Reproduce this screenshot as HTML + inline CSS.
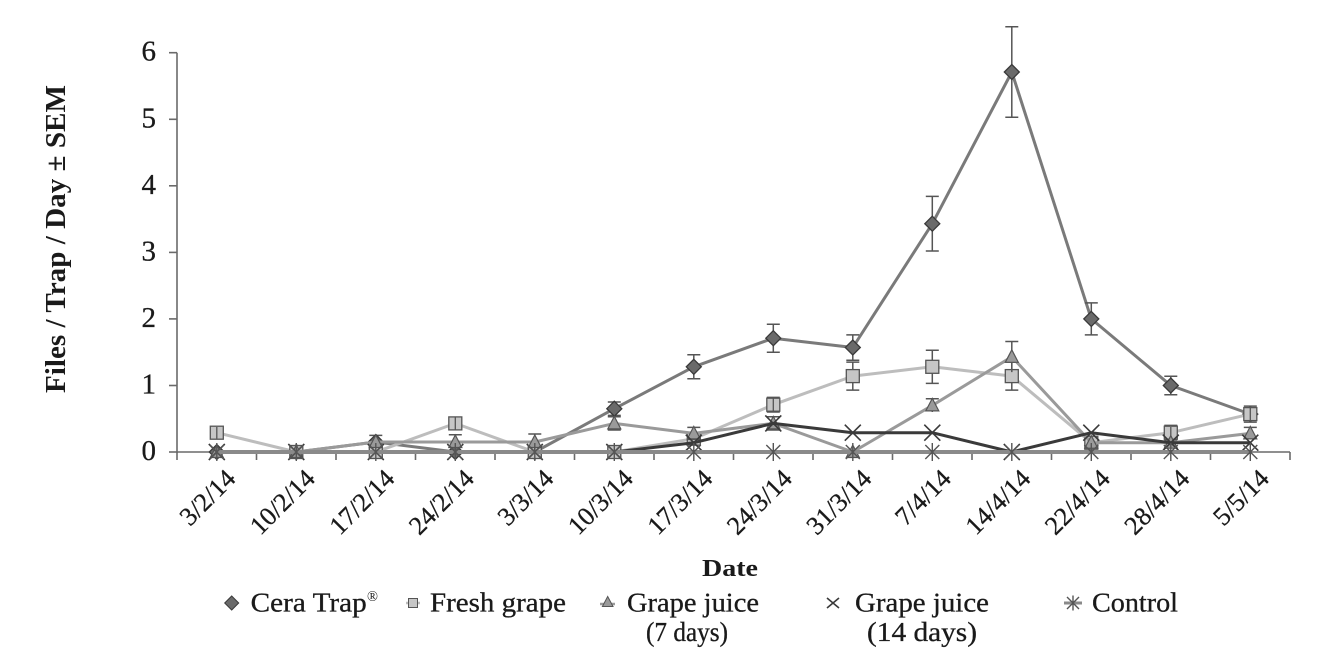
<!DOCTYPE html>
<html><head><meta charset="utf-8"><style>
html,body{margin:0;padding:0;background:#fff;}
svg{display:block;font-family:"Liberation Serif",serif;}
</style></head><body>
<svg width="1328" height="664" viewBox="0 0 1328 664" xmlns="http://www.w3.org/2000/svg">
<defs>
<g id="dia"><polygon points="0,-7.5 7.5,0 0,7.5 -7.5,0" fill="#6a6a6a" stroke="#3a3a3a" stroke-width="1.3"/></g>
<g id="sq"><rect x="-6.5" y="-6.5" width="13" height="13" fill="#c6c6c6" stroke="#555" stroke-width="1.3"/></g>
<g id="tri"><polygon points="0,-7 6.5,5.5 -6.5,5.5" fill="#9a9a9a" stroke="#555" stroke-width="1.2"/></g>
<g id="xm"><path d="M-8,-8 L8,8 M-8,8 L8,-8" stroke="#3a3a3a" stroke-width="1.6" fill="none"/></g>
<g id="ast"><path d="M-7,-7 L7,7 M-7,7 L7,-7 M0,-9 L0,9" stroke="#555" stroke-width="1.4" fill="none"/></g>
</defs>

<!-- Axes -->
<g stroke="#6a6a6a" stroke-width="1.6" fill="none">
<line x1="177" y1="52.7" x2="177" y2="453"/>
<line x1="169" y1="52.7" x2="177" y2="52.7"/>
<line x1="169" y1="119.3" x2="177" y2="119.3"/>
<line x1="169" y1="185.8" x2="177" y2="185.8"/>
<line x1="169" y1="252.4" x2="177" y2="252.4"/>
<line x1="169" y1="318.9" x2="177" y2="318.9"/>
<line x1="169" y1="385.5" x2="177" y2="385.5"/>
<line x1="169" y1="452" x2="177" y2="452"/>
<line x1="177" y1="452" x2="1290" y2="452"/>
<path d="M177,452V460 M256.5,452V460 M336,452V460 M415.5,452V460 M495,452V460 M574.5,452V460 M654,452V460 M733.5,452V460 M813,452V460 M892.5,452V460 M972,452V460 M1051.5,452V460 M1131,452V460 M1210.5,452V460 M1290,452V460"/>
</g>

<!-- Y tick labels -->
<g font-size="29" fill="#1a1a1a" stroke="#1a1a1a" stroke-width="0.3" text-anchor="end">
<text x="156" y="60.7">6</text>
<text x="156" y="127.3">5</text>
<text x="156" y="193.8">4</text>
<text x="156" y="260.4">3</text>
<text x="156" y="326.9">2</text>
<text x="156" y="393.5">1</text>
<text x="156" y="460">0</text>
</g>

<!-- Y axis title -->
<text transform="translate(65,239) rotate(-90)" text-anchor="middle" font-size="28" font-weight="bold" fill="#1a1a1a" textLength="308" lengthAdjust="spacingAndGlyphs">Files / Trap / Day ± SEM</text>

<!-- X tick labels -->
<g font-size="26" fill="#1a1a1a" stroke="#1a1a1a" stroke-width="0.3" text-anchor="end">
<text transform="translate(237,480) rotate(-45)">3/2/14</text>
<text transform="translate(316.5,480) rotate(-45)">10/2/14</text>
<text transform="translate(396,480) rotate(-45)">17/2/14</text>
<text transform="translate(475.5,480) rotate(-45)">24/2/14</text>
<text transform="translate(555,480) rotate(-45)">3/3/14</text>
<text transform="translate(634.5,480) rotate(-45)">10/3/14</text>
<text transform="translate(714,480) rotate(-45)">17/3/14</text>
<text transform="translate(793.5,480) rotate(-45)">24/3/14</text>
<text transform="translate(873,480) rotate(-45)">31/3/14</text>
<text transform="translate(952.5,480) rotate(-45)">7/4/14</text>
<text transform="translate(1032,480) rotate(-45)">14/4/14</text>
<text transform="translate(1111.5,480) rotate(-45)">22/4/14</text>
<text transform="translate(1191,480) rotate(-45)">28/4/14</text>
<text transform="translate(1270.5,480) rotate(-45)">5/5/14</text>
</g>

<text x="702" y="576" font-size="24" font-weight="bold" fill="#1a1a1a" textLength="56" lengthAdjust="spacingAndGlyphs">Date</text>

<!-- Series: Cera Trap -->
<polyline fill="none" stroke="#7a7a7a" stroke-width="3" stroke-linejoin="round" points="216.8,452 296.3,452 375.8,442 455.3,452 534.8,452 614.3,408.7 693.8,366.8 773.3,338.2 852.8,347.5 932.3,223.7 1011.8,72 1091.3,318.9 1170.8,385.5 1250.3,414.1"/>
<g stroke="#555" stroke-width="1.5" fill="none">
<path d="M375.8,435.4V448.7 M369.3,435.4H382.3"/>
<path d="M614.3,402V415.4 M607.8,402H620.8 M607.8,415.4H620.8"/>
<path d="M693.8,354.8V378.8 M687.3,354.8H700.3 M687.3,378.8H700.3"/>
<path d="M773.3,324.2V352.2 M766.8,324.2H779.8 M766.8,352.2H779.8"/>
<path d="M852.8,334.9V360.2 M846.3,334.9H859.3 M846.3,360.2H859.3"/>
<path d="M932.3,196.4V251 M925.8,196.4H938.8 M925.8,251H938.8"/>
<path d="M1011.8,26.8V117.2 M1005.3,26.8H1018.3 M1005.3,117.2H1018.3"/>
<path d="M1091.3,302.9V334.9 M1084.8,302.9H1097.8 M1084.8,334.9H1097.8"/>
<path d="M1170.8,376.2V394.8 M1164.3,376.2H1177.3 M1164.3,394.8H1177.3"/>
</g>
<use href="#dia" x="216.8" y="452"/><use href="#dia" x="296.3" y="452"/><use href="#dia" x="375.8" y="442"/><use href="#dia" x="455.3" y="452"/><use href="#dia" x="534.8" y="452"/><use href="#dia" x="614.3" y="408.7"/><use href="#dia" x="693.8" y="366.8"/><use href="#dia" x="773.3" y="338.2"/><use href="#dia" x="852.8" y="347.5"/><use href="#dia" x="932.3" y="223.7"/><use href="#dia" x="1011.8" y="72"/><use href="#dia" x="1091.3" y="318.9"/><use href="#dia" x="1170.8" y="385.5"/><use href="#dia" x="1250.3" y="414.1"/>

<!-- Series: Fresh grape -->
<polyline fill="none" stroke="#bdbdbd" stroke-width="3" stroke-linejoin="round" points="216.8,432.7 296.3,452 375.8,452 455.3,423.4 534.8,452 614.3,452 693.8,438.7 773.3,404.7 852.8,376.1 932.3,366.8 1011.8,376.1 1091.3,442.7 1170.8,432.7 1250.3,414.1"/>
<g stroke="#555" stroke-width="1.5" fill="none">
<path d="M773.3,397.4V412 M766.8,397.4H779.8 M766.8,412H779.8"/>
<path d="M852.8,362.1V390.1 M846.3,362.1H859.3 M846.3,390.1H859.3"/>
<path d="M932.3,350.2V383.4 M925.8,350.2H938.8 M925.8,383.4H938.8"/>
<path d="M1011.8,362.1V390.1 M1005.3,362.1H1018.3 M1005.3,390.1H1018.3"/>
<path d="M1170.8,425.4V440 M1164.3,425.4H1177.3 M1164.3,440H1177.3"/>
<path d="M1250.3,406.1V422.1 M1243.8,406.1H1256.8 M1243.8,422.1H1256.8"/>
</g>
<use href="#sq" x="216.8" y="432.7"/><use href="#sq" x="296.3" y="452"/><use href="#sq" x="375.8" y="452"/><use href="#sq" x="455.3" y="423.4"/><use href="#sq" x="534.8" y="452"/><use href="#sq" x="614.3" y="452"/><use href="#sq" x="693.8" y="438.7"/><use href="#sq" x="773.3" y="404.7"/><use href="#sq" x="852.8" y="376.1"/><use href="#sq" x="932.3" y="366.8"/><use href="#sq" x="1011.8" y="376.1"/><use href="#sq" x="1091.3" y="442.7"/><use href="#sq" x="1170.8" y="432.7"/><use href="#sq" x="1250.3" y="414.1"/>
<g stroke="#555" stroke-width="1.3"><path d="M216.8,427V438.5 M455.3,417.5V429.5 M773.3,398.5V411 M1170.8,427V438.5 M1250.3,408V420"/></g>

<!-- Series: Grape juice (7 days) -->
<polyline fill="none" stroke="#9a9a9a" stroke-width="3" stroke-linejoin="round" points="216.8,452 296.3,452 375.8,442 455.3,442 534.8,442 614.3,423.4 693.8,433.4 773.3,423.4 852.8,452 932.3,405.4 1011.8,356.8 1091.3,442.7 1170.8,442.7 1250.3,433.4"/>
<g stroke="#555" stroke-width="1.5" fill="none">
<path d="M455.3,434.7V449.3 M448.8,434.7H461.8"/>
<path d="M534.8,434V450 M528.3,434H541.3"/>
<path d="M614.3,416.7V430 M607.8,416.7H620.8 M607.8,430H620.8"/>
<path d="M693.8,427.4V439.4 M687.3,427.4H700.3 M687.3,439.4H700.3"/>
<path d="M773.3,416.7V430 M766.8,416.7H779.8 M766.8,430H779.8"/>
<path d="M932.3,398.7V412 M925.8,398.7H938.8"/>
<path d="M1011.8,341.5V372.1 M1005.3,341.5H1018.3"/>
<path d="M1250.3,427.4V439.4 M1243.8,427.4H1256.8"/>
</g>
<use href="#tri" x="216.8" y="452"/><use href="#tri" x="296.3" y="452"/><use href="#tri" x="375.8" y="442"/><use href="#tri" x="455.3" y="442"/><use href="#tri" x="534.8" y="442"/><use href="#tri" x="614.3" y="423.4"/><use href="#tri" x="693.8" y="433.4"/><use href="#tri" x="773.3" y="423.4"/><use href="#tri" x="852.8" y="452"/><use href="#tri" x="932.3" y="405.4"/><use href="#tri" x="1011.8" y="356.8"/><use href="#tri" x="1091.3" y="442.7"/><use href="#tri" x="1170.8" y="442.7"/><use href="#tri" x="1250.3" y="433.4"/>

<!-- Series: Grape juice (14 days) -->
<polyline fill="none" stroke="#3a3a3a" stroke-width="3" stroke-linejoin="round" points="216.8,452 296.3,452 375.8,452 455.3,452 534.8,452 614.3,452 693.8,442.7 773.3,423.4 852.8,432.7 932.3,432.7 1011.8,452 1091.3,432.7 1170.8,442.7 1250.3,442.7"/>
<use href="#xm" x="216.8" y="452"/><use href="#xm" x="296.3" y="452"/><use href="#xm" x="375.8" y="452"/><use href="#xm" x="455.3" y="452"/><use href="#xm" x="534.8" y="452"/><use href="#xm" x="614.3" y="452"/><use href="#xm" x="693.8" y="442.7"/><use href="#xm" x="773.3" y="423.4"/><use href="#xm" x="852.8" y="432.7"/><use href="#xm" x="932.3" y="432.7"/><use href="#xm" x="1011.8" y="452"/><use href="#xm" x="1091.3" y="432.7"/><use href="#xm" x="1170.8" y="442.7"/><use href="#xm" x="1250.3" y="442.7"/>

<!-- Series: Control -->
<line x1="216.8" y1="452" x2="1250.3" y2="452" stroke="#8a8a8a" stroke-width="4"/>
<use href="#ast" x="216.8" y="452"/><use href="#ast" x="296.3" y="452"/><use href="#ast" x="375.8" y="452"/><use href="#ast" x="455.3" y="452"/><use href="#ast" x="534.8" y="452"/><use href="#ast" x="614.3" y="452"/><use href="#ast" x="693.8" y="452"/><use href="#ast" x="773.3" y="452"/><use href="#ast" x="852.8" y="452"/><use href="#ast" x="932.3" y="452"/><use href="#ast" x="1011.8" y="452"/><use href="#ast" x="1091.3" y="452"/><use href="#ast" x="1170.8" y="452"/><use href="#ast" x="1250.3" y="452"/>

<!-- Legend -->
<polygon points="231.7,596 238.7,603 231.7,610 224.7,603" fill="#6a6a6a" stroke="#3a3a3a" stroke-width="1"/>
<line x1="406" y1="603" x2="420" y2="603" stroke="#bdbdbd" stroke-width="2.5"/>
<rect x="408.5" y="598.5" width="9" height="9" fill="#c6c6c6" stroke="#555" stroke-width="1"/>
<line x1="600" y1="604" x2="615" y2="604" stroke="#9a9a9a" stroke-width="2.5"/>
<polygon points="607.7,596.5 613,606.5 602.4,606.5" fill="#9a9a9a" stroke="#555" stroke-width="1"/>
<path d="M827,598 L839,608 M827,608 L839,598" stroke="#3a3a3a" stroke-width="1.6"/>
<line x1="1064" y1="603" x2="1082" y2="603" stroke="#8a8a8a" stroke-width="3"/>
<path d="M1067,597 L1079,609 M1067,609 L1079,597 M1073,595.5 L1073,610.5" stroke="#555" stroke-width="1.4"/>

<g font-size="27" fill="#1a1a1a" stroke="#1a1a1a" stroke-width="0.3">
<text x="250.7" y="611.7" textLength="116" lengthAdjust="spacingAndGlyphs">Cera Trap</text>
<text x="367" y="601" font-size="15" stroke-width="0" textLength="11" lengthAdjust="spacingAndGlyphs">®</text>
<text x="430" y="611.7" textLength="136" lengthAdjust="spacingAndGlyphs">Fresh grape</text>
<text x="627" y="611.7" textLength="132" lengthAdjust="spacingAndGlyphs">Grape juice</text>
<text x="646" y="641" textLength="82" lengthAdjust="spacingAndGlyphs">(7 days)</text>
<text x="855" y="611.7" textLength="134" lengthAdjust="spacingAndGlyphs">Grape juice</text>
<text x="867" y="641" textLength="110" lengthAdjust="spacingAndGlyphs">(14 days)</text>
<text x="1092" y="611.7" textLength="86" lengthAdjust="spacingAndGlyphs">Control</text>
</g>
</svg>
</body></html>
